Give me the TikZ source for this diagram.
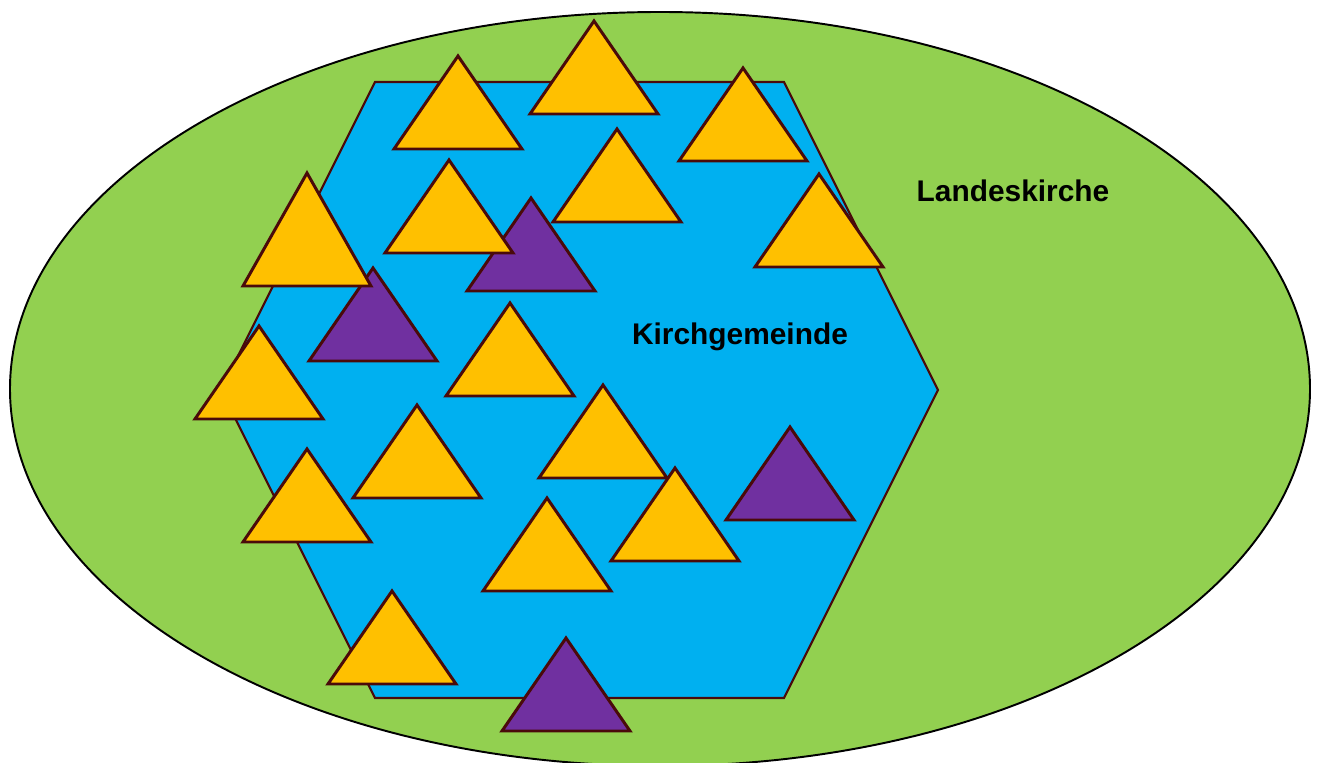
\documentclass[tikz,border=0pt]{standalone}
\usepackage{fontspec}
\setmainfont{Liberation Sans}
\definecolor{landgreen}{HTML}{92D050}
\definecolor{gemblue}{HTML}{00B0F0}
\definecolor{triyellow}{HTML}{FFC000}
\definecolor{tripurple}{HTML}{7030A0}
\definecolor{triline}{HTML}{4A0A0A}

\begin{document}
\begin{tikzpicture}[x=0.02cm, y=-0.02cm,
  lbl/.style={font=\bfseries\fontsize{17}{20}\selectfont, anchor=base, inner sep=0pt},
  tri/.style={draw=triline, line width=1.7pt},
  hex/.style={draw=triline, fill=gemblue, line width=1.2pt}]
  \useasboundingbox (0,0) rectangle (1319,763);
  \draw[fill=landgreen, line width=1.1pt] (660,389) ellipse [x radius=650, y radius=377];
  \draw[hex] (375,82) -- (784,82) -- (938,390) -- (784,698) -- (375,698) -- (221,390) -- cycle;
  % triangles: apex x / apex y / colour
  \foreach \x/\y/\c in {458/56/triyellow, 594/21/triyellow, 743/68/triyellow, 617/129/triyellow,
      531/198/tripurple, 449/160/triyellow, 819/174/triyellow, 373/268/tripurple,
      510/303/triyellow, 259/326/triyellow, 417/405/triyellow, 603/385/triyellow,
      307/449/triyellow, 790/427/tripurple, 675/468/triyellow, 547/498/triyellow,
      392/591/triyellow, 566/638/tripurple}
    {\draw[tri, fill=\c] (\x,\y) -- (\x+64,\y+93) -- (\x-64,\y+93) -- cycle;}
  \draw[tri, fill=triyellow] (307,173) -- (371,286) -- (243,286) -- cycle;
  \node[lbl] (gemeinde) at (740,345) {Kirchgemeinde};
  \node[lbl] (kirche) at (1013,202) {Landeskirche};
\end{tikzpicture}
\end{document}
